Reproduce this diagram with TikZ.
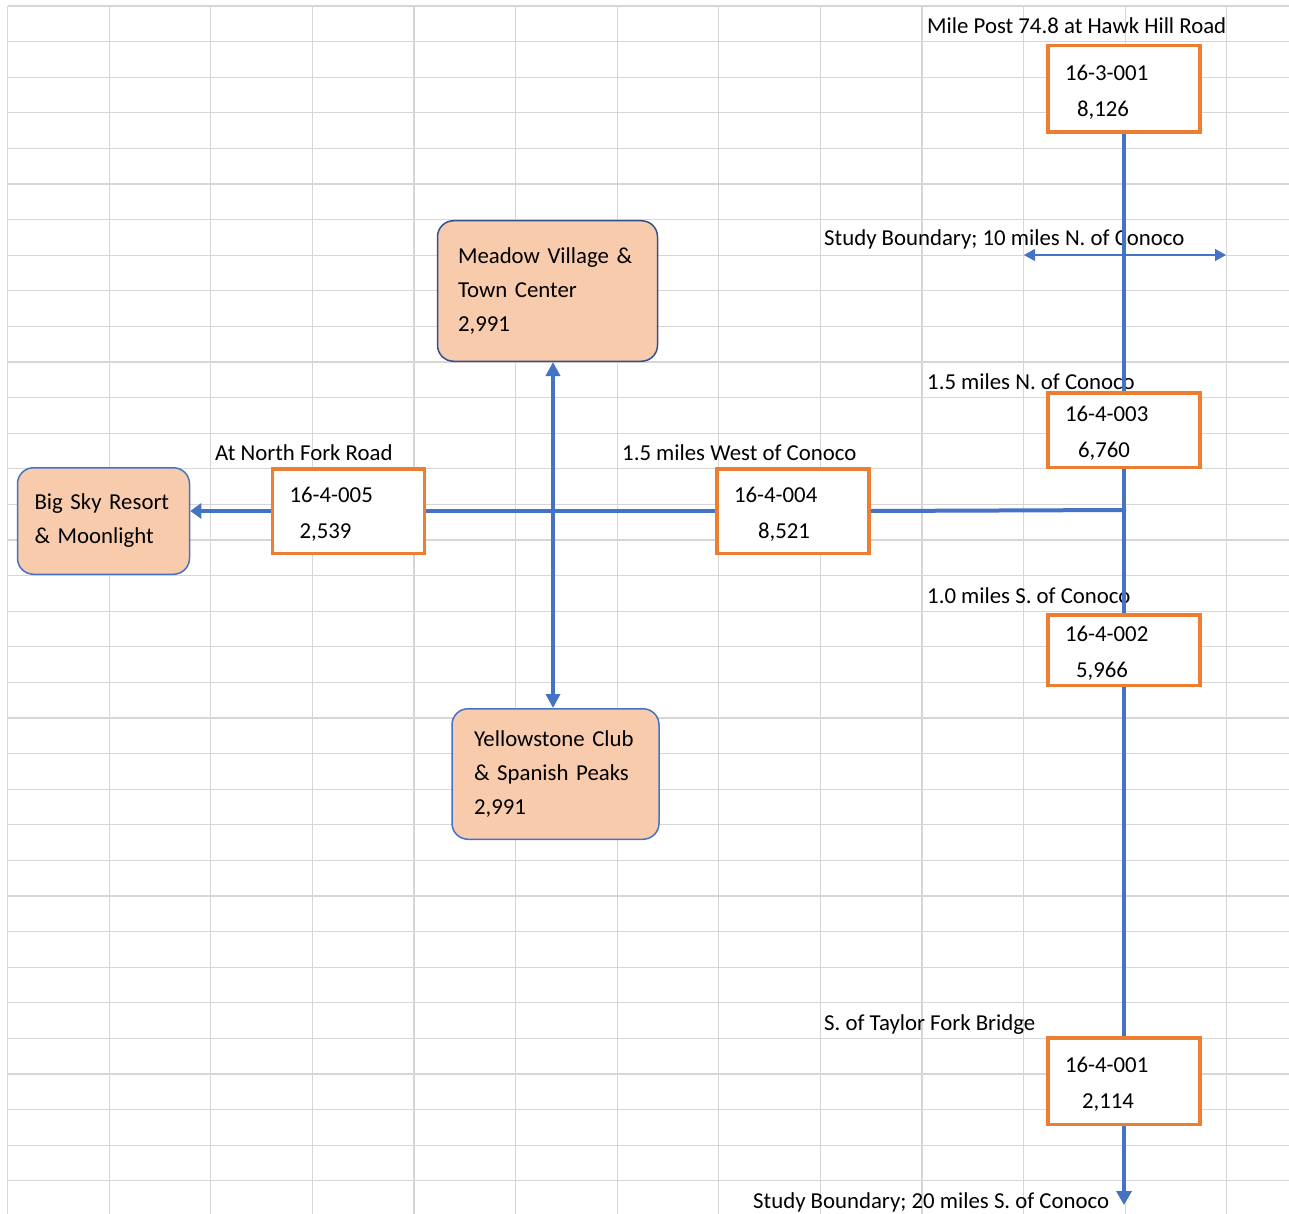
\documentclass[tikz,border=0pt]{standalone}
\usepackage{fontspec}
\setmainfont{Carlito}
\usetikzlibrary{arrows.meta}
\definecolor{roadblue}{HTML}{4472C4}
\definecolor{navyline}{HTML}{2F528F}
\definecolor{cntorange}{HTML}{ED7D31}
\definecolor{peach}{HTML}{F8CBAD}
\definecolor{cellgray}{HTML}{D6D6D6}

\begin{document}
\begin{tikzpicture}[
        x=1pt, y=-1pt,
        font=\fontsize{22.8}{34}\selectfont,
        cell/.style={draw=cellgray,line width=1.2pt},
        counter/.style={draw=cntorange,fill=white,line width=3.5pt,align=left,
            font=\fontsize{22.8}{35.5}\selectfont,text height=22pt,
            text width=118pt,inner xsep=17pt,inner ysep=0pt,minimum height=#1},
        place/.style={draw=roadblue,fill=peach,line width=1.5pt,rounded corners=16pt,
            align=left,inner ysep=0pt,minimum height=#1},
        tag/.style={anchor=base west,inner sep=0pt},
        road/.style={draw=roadblue,line width=4pt},
        tip/.style={-{Triangle[width=15pt,length=14pt]}}
    ]
    \useasboundingbox (0,0) rectangle (1289,1214);
    \foreach \i in {0,...,12}
        \draw [cell] (7.5+101.6*\i,6) -- (7.5+101.6*\i,1214);
    \foreach \j in {0,...,33}
        \draw [cell] (7.5,6+35.6*\j) -- (1289,6+35.6*\j);

    \node [tag] (lblpost)   at (927,34)   {Mile Post 74.8 at Hawk Hill Road};
    \node [tag] (lblnbound) at (824,246)  {Study Boundary; 10 miles N. of Conoco};
    \node [tag] (lblnorth)  at (927,389)  {1.5 miles N. of Conoco};
    \node [tag] (lblfork)   at (215,460)  {At North Fork Road};
    \node [tag] (lblwest)   at (622,460)  {1.5 miles West of Conoco};
    \node [tag] (lblsouth)  at (927,603)  {1.0 miles S. of Conoco};
    \node [tag] (lbltaylor) at (824,1030) {S. of Taylor Fork Bridge};
    \node [tag] (lblsbound) at (753,1208) {Study Boundary; 20 miles S. of Conoco};

    \node [counter=86.5] (c3001) at (1124,89)   {16-3-001\\\hspace*{12pt}8,126};
    \node [counter=74.5] (c4003) at (1124,430)  {16-4-003\\\hspace*{13pt}6,760};
    \node [counter=84.5] (c4004) at (793,511)   {16-4-004\\\hspace*{24pt}8,521};
    \node [counter=84.5] (c4005) at (348.5,511) {16-4-005\\\hspace*{10pt}2,539};
    \node [counter=70.5] (c4002) at (1124,650)  {16-4-002\\\hspace*{11pt}5,966};
    \node [counter=86.5] (c4001) at (1124,1081) {16-4-001\\\hspace*{17pt}2,114};

    \node [place=106.5,text width=138pt,inner xsep=17pt] (bigsky) at (103.5,521)
        {Big Sky Resort\\\& Moonlight};
    \node [place=140.5,draw=navyline,text width=179pt,inner xsep=20.5pt] (meadow) at (547.5,291)
        {Meadow Village \&\\Town Center\\2,991};
    \node [place=130.5,text width=163pt,inner xsep=22pt] (yellow) at (555.5,774)
        {Yellowstone Club\\\& Spanish Peaks\\2,991};

    \coordinate (nbl) at (1024,255);
    \coordinate (nbr) at (1226,255);
    \coordinate (jct) at (1126,510);
    \coordinate (hub) at (553,511);
    \coordinate (send) at (1124,1205);

    \draw [draw=roadblue,line width=1.3pt,
        {Triangle[width=12pt,length=11pt]}-{Triangle[width=12pt,length=11pt]}] (nbl) -- (nbr);
    \draw [road] (c3001.south) -- (c4003.north);
    \draw [road] (c4003.south) -- (c4002.north);
    \draw [road] (c4002.south) -- (c4001.north);
    \draw [road,tip] (c4001.south) -- (send);
    \draw [road] (c4004.east) -- (jct);
    \draw [road] (c4005.east) -- (c4004.west);
    \draw [road,-{Triangle[width=15pt,length=11pt]}] (c4005.west) -- (c4005.west -| bigsky.east);
    \draw [road,line width=3.5pt,
        {Triangle[width=14pt,length=14pt]}-{Triangle[width=14pt,length=14pt]}]
        (meadow.south -| hub) -- (yellow.north -| hub);
\end{tikzpicture}
\end{document}
